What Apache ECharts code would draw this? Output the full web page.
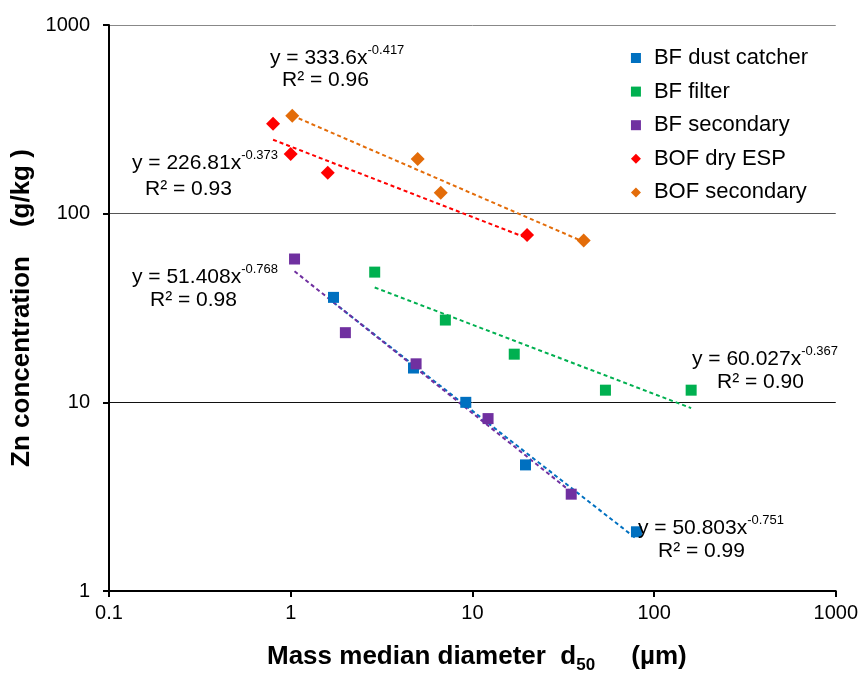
<!DOCTYPE html>
<html><head><meta charset="utf-8">
<script src="https://cdn.jsdelivr.net/npm/echarts@6/dist/echarts.min.js"></script>
<style>html,body{margin:0;padding:0;background:#fff}#c{width:861px;height:673px}</style>
</head><body><div id="c"></div>
<script>
const seriesNames = ['BF dust catcher','BF filter','BF secondary','BOF dry ESP','BOF secondary'];
const seriesColors = ['#0070C0','#00B050','#7030A0','#FF0000','#E36C09'];
const bfDustX = [1.72, 4.74, 9.2, 19.6, 80];
const bfDustY = [36, 15.2, 10, 4.66, 2.06];
const bfFilterX = [2.9, 7.1, 17, 54, 160];
const bfFilterY = [49, 27.3, 18, 11.6, 11.6];
const bfSecX = [1.05, 2.0, 4.9, 12.2, 35];
const bfSecY = [57.5, 23.4, 16, 8.2, 3.26];
const bofEspX = [0.8, 1.0, 1.6, 20];
const bofEspY = [300, 207, 165, 77];
const bofSecX = [1.02, 5.0, 6.7, 41];
const bofSecY = [330, 195, 129, 72];
const trendA = [50.803, 60.027, 51.408, 226.81, 333.6];
const trendB = [-0.751, -0.367, -0.768, -0.373, -0.417];
const trendAText = ['50.803','60.027','51.408','226.81','333.6'];
const trendBText = ['-0.751','-0.367','-0.768','-0.373','-0.417'];
const r2Text = ['0.99','0.90','0.98','0.93','0.96'];
const xTicks = [0.1, 1, 10, 100, 1000];
const yTicks = [1, 10, 100, 1000];

const xs = [bfDustX, bfFilterX, bfSecX, bofEspX, bofSecX];
const ys = [bfDustY, bfFilterY, bfSecY, bofEspY, bofSecY];
const symbols = ['rect','rect','rect','diamond','diamond'];
const symSizes = [11,11,11,14,14];

const series = [];
seriesNames.forEach((n,i)=>{
  const xmin = Math.min(...xs[i]), xmax = Math.max(...xs[i]);
  series.push({
    name: n + ' trend', type:'line', silent:true, symbol:'none', z:1,
    data: [[xmin, trendA[i]*Math.pow(xmin,trendB[i])],[xmax, trendA[i]*Math.pow(xmax,trendB[i])]],
    lineStyle:{color:seriesColors[i], width:2, type:[4,3]}
  });
});
seriesNames.forEach((n,i)=>{
  series.push({
    name:n, type:'scatter', symbol:symbols[i], symbolSize:symSizes[i], z:3,
    itemStyle:{color:seriesColors[i], opacity:1},
    data: xs[i].map((x,j)=>[x, ys[i][j]])
  });
});

// equation label positions (pixels): index order as seriesNames
const eqPos = [[638,514],[692,345],[132,263],[132,149],[270,44]];
const r2Pos = [[658,541],[717,372],[150,290],[145,179],[282,70]];
const graphic = [];
seriesNames.forEach((n,i)=>{
  graphic.push({type:'text', left:eqPos[i][0], top:eqPos[i][1], z:10,
    style:{text:'{a|y = '+trendAText[i]+'x}{s|'+trendBText[i]+'}', rich:{
      a:{fontSize:21, fontFamily:'Liberation Sans', fill:'#000', lineHeight:25, verticalAlign:'bottom'},
      s:{fontSize:13, fontFamily:'Liberation Sans', fill:'#000', lineHeight:25, verticalAlign:'top'}
    }}});
  graphic.push({type:'text', left:r2Pos[i][0], top:r2Pos[i][1], z:10,
    style:{text:'R² = '+r2Text[i], font:'21px "Liberation Sans"', fill:'#000'}});
});
graphic.push({type:'text', left:267, top:644, z:10,
  style:{text:'{b|Mass median diameter  d}{sub|50}{b|     (µm)}', rich:{
    b:{fontSize:26, fontWeight:'bold', fontFamily:'Liberation Sans', fill:'#000', lineHeight:30, verticalAlign:'top'},
    sub:{fontSize:17, fontWeight:'bold', fontFamily:'Liberation Sans', fill:'#000', lineHeight:30, verticalAlign:'bottom'}
  }}});

const chart = echarts.init(document.getElementById('c'));
chart.setOption({
  animation:false,
  backgroundColor:'#fff',
  grid:{left:109, right:24, top:25, bottom:82, containLabel:false},
  legend:{
    orient:'vertical', right:48, top:42, itemGap:11.6, itemWidth:10, itemHeight:10,
    data: seriesNames.map((n,i)=>({name:n, icon:symbols[i]})),
    textStyle:{fontSize:22, fontFamily:'Liberation Sans', color:'#000', padding:[0,0,0,8]}
  },
  xAxis:{type:'log', logBase:10, min:xTicks[0], max:xTicks[xTicks.length-1],
    axisLine:{lineStyle:{color:'#000', width:2}},
    axisTick:{show:true, length:6, lineStyle:{color:'#000', width:2}},
    minorTick:{show:false}, splitLine:{show:false},
    axisLabel:{color:'#000', fontSize:20, fontFamily:'Liberation Sans', margin:12,
      formatter:v=>String(+v.toPrecision(3))}
  },
  yAxis:{type:'log', logBase:10, min:yTicks[0], max:yTicks[yTicks.length-1],
    name:'Zn concentration    (g/kg )', nameLocation:'middle', nameGap:72,
    nameTextStyle:{fontSize:26, fontWeight:'bold', fontFamily:'Liberation Sans', color:'#000'},
    axisLine:{lineStyle:{color:'#000', width:2}},
    axisTick:{show:true, length:6, lineStyle:{color:'#000', width:2}},
    splitLine:{show:true, lineStyle:{color:['#000','#111','#555','#888'], width:1}},
    axisLabel:{color:'#000', fontSize:20, fontFamily:'Liberation Sans', margin:19,
      formatter:v=>String(+v.toPrecision(3))}
  },
  graphic: graphic,
  series: series
});
</script></body></html>
